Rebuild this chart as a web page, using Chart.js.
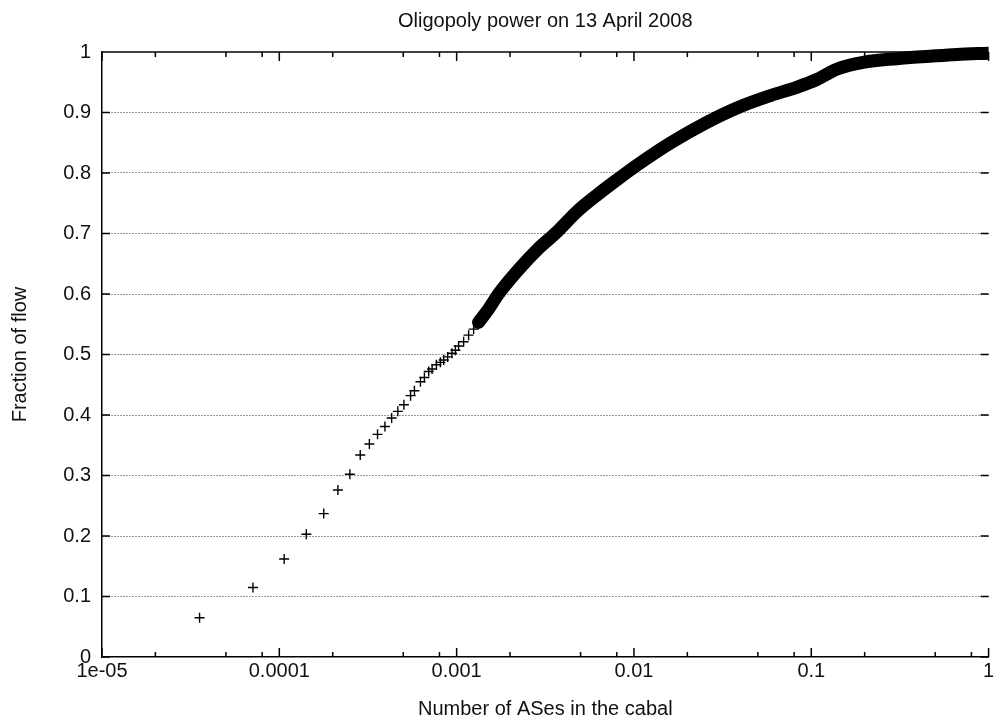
<!DOCTYPE html>
<html><head><meta charset="utf-8">
<script src="https://cdn.jsdelivr.net/npm/chart.js@4.4.1/dist/chart.umd.min.js"></script>
<style>html,body{margin:0;padding:0;background:#fff;overflow:hidden}#wrap{width:995px;height:719px}</style>
</head><body><div id="wrap"><canvas id="c" width="995" height="719"></canvas></div>
<script>
const chartTitle = 'Oligopoly power on 13 April 2008';
const xAxisTitle = 'Number of ASes in the cabal';
const yAxisTitle = 'Fraction of flow';
const xTickValues = [1e-5, 1e-4, 1e-3, 1e-2, 1e-1, 1];
const xTickLabels = ['1e-05', '0.0001', '0.001', '0.01', '0.1', '1'];
const xMinorTicks = [2e-5, 5e-5, 8e-5, 2e-4, 5e-4, 8e-4, 2e-3, 5e-3, 8e-3, 2e-2, 5e-2, 8e-2, 2e-1, 5e-1, 8e-1];
const yTickValues = [0, 0.1, 0.2, 0.3, 0.4, 0.5, 0.6, 0.7, 0.8, 0.9, 1];
const yTickLabels = ['0', '0.1', '0.2', '0.3', '0.4', '0.5', '0.6', '0.7', '0.8', '0.9', '1'];

// individually visible "+" markers (low ranks)
const sparseX = [3.55e-5, 7.1e-5, 1.065e-4, 1.42e-4, 1.78e-4, 2.14e-4, 2.5e-4, 2.86e-4, 3.22e-4, 3.58e-4,
  3.94e-4, 4.3e-4, 4.66e-4, 5.04e-4, 5.5e-4, 5.78e-4, 6.25e-4, 6.58e-4, 6.96e-4, 7.27e-4,
  7.69e-4, 8.1e-4, 8.45e-4, 8.9e-4, 9.41e-4, 9.84e-4, 1.026e-3, 1.095e-3, 1.168e-3, 1.247e-3];
const sparseY = [0.065, 0.115, 0.162, 0.203, 0.237, 0.276, 0.302, 0.334, 0.352, 0.368,
  0.381, 0.395, 0.406, 0.417, 0.432, 0.440, 0.455, 0.462, 0.472, 0.476,
  0.483, 0.487, 0.491, 0.496, 0.502, 0.507, 0.514, 0.521, 0.532, 0.542];

// dense part where markers merge into a thick band
const denseX = [1.329e-3, 1.513e-3, 1.722e-3, 2.23e-3, 2.888e-3, 3.598e-3, 4.845e-3, 6.278e-3, 8.131e-3,
  1.053e-2, 1.614e-2, 2.506e-2, 3.839e-2, 5.884e-2, 8.343e-2, 0.1081, 0.14, 0.1959, 0.3041, 0.4662, 0.6611, 1];
const denseY = [0.553, 0.575, 0.600, 0.640, 0.675, 0.700, 0.738, 0.765, 0.790,
  0.814, 0.850, 0.882, 0.908, 0.928, 0.942, 0.955, 0.972, 0.983, 0.989, 0.993, 0.996, 0.998];

const FONT = 'Liberation Sans, Arial, Helvetica, sans-serif';
const TXT = '#111';

const frameTicks = {
  id: 'frameTicks',
  afterDatasetsDraw(chart) {
    const {ctx, chartArea: a, scales: {x, y}} = chart;
    ctx.save();
    ctx.strokeStyle = '#000';
    ctx.lineWidth = 1.5;
    ctx.beginPath();
    ctx.moveTo(a.left, a.top); ctx.lineTo(a.right, a.top);
    xTickValues.forEach(v => {
      const px = x.getPixelForValue(v);
      ctx.moveTo(px, a.bottom); ctx.lineTo(px, a.bottom - 9);
      ctx.moveTo(px, a.top); ctx.lineTo(px, a.top + 9);
    });
    xMinorTicks.forEach(v => {
      const px = x.getPixelForValue(v);
      ctx.moveTo(px, a.bottom); ctx.lineTo(px, a.bottom - 5);
      ctx.moveTo(px, a.top); ctx.lineTo(px, a.top + 5);
    });
    yTickValues.forEach(v => {
      const py = y.getPixelForValue(v);
      ctx.moveTo(a.left, py); ctx.lineTo(a.left + 8, py);
      ctx.moveTo(a.right, py); ctx.lineTo(a.right - 8, py);
    });
    ctx.stroke();
    ctx.restore();
  }
};

new Chart(document.getElementById('c'), {
  type: 'scatter',
  data: {
    datasets: [
      {
        data: sparseX.map((v, i) => ({x: v, y: sparseY[i]})),
        pointStyle: 'cross', pointRadius: 5, pointBorderWidth: 1.4,
        borderColor: '#000', backgroundColor: '#000', showLine: false
      },
      {
        data: denseX.map((v, i) => ({x: v, y: denseY[i]})),
        showLine: true, borderColor: '#000', borderWidth: 13, pointRadius: 0,
        cubicInterpolationMode: 'monotone', borderCapStyle: 'round', borderJoinStyle: 'round',
        clip: {left: 10, top: 10, right: 0, bottom: 10}
      }
    ]
  },
  options: {
    responsive: false, animation: false, devicePixelRatio: 1,
    layout: {padding: {left: 0, right: 3, top: 0, bottom: 0}},
    plugins: {
      legend: {display: false},
      tooltip: {enabled: false},
      title: {
        display: true, text: chartTitle, color: TXT, fullSize: false,
        font: {family: FONT, size: 20, weight: 'normal', lineHeight: 1.2},
        padding: {top: 9, bottom: 19}
      }
    },
    scales: {
      x: {
        type: 'logarithmic', min: 1e-5, max: 1,
        afterBuildTicks: s => { s.ticks = xTickValues.map(v => ({value: v})); },
        afterFit: s => { s.height = 62; s.paddingLeft = 0; s.paddingRight = 0; },
        ticks: {
          autoSkip: false, maxRotation: 0, padding: 2, color: TXT,
          font: {family: FONT, size: 20},
          callback: (v, i) => xTickLabels[i]
        },
        grid: {display: false, drawTicks: false},
        border: {display: true, color: '#000', width: 1.5},
        title: {display: true, text: xAxisTitle, color: TXT,
          font: {family: FONT, size: 20, lineHeight: 1}, padding: {top: 0, bottom: 0}}
      },
      y: {
        min: 0, max: 1,
        afterBuildTicks: s => { s.ticks = yTickValues.map(v => ({value: v})); },
        afterFit: s => { s.width = 102; s.paddingTop = 0; s.paddingBottom = 0; },
        ticks: {
          padding: 11, color: TXT, font: {family: FONT, size: 20},
          callback: (v, i) => yTickLabels[i]
        },
        grid: {
          drawTicks: false, lineWidth: 1,
          color: c => (c.index === 0 || c.index === yTickValues.length - 1) ? 'rgba(0,0,0,0)' : '#333'
        },
        border: {display: true, color: '#000', width: 1.5, dash: [1, 2]},
        title: {display: true, text: yAxisTitle, color: TXT,
          font: {family: FONT, size: 20, lineHeight: 1}, padding: {top: 10, bottom: 0}}
      }
    }
  },
  plugins: [frameTicks]
});
</script></body></html>
